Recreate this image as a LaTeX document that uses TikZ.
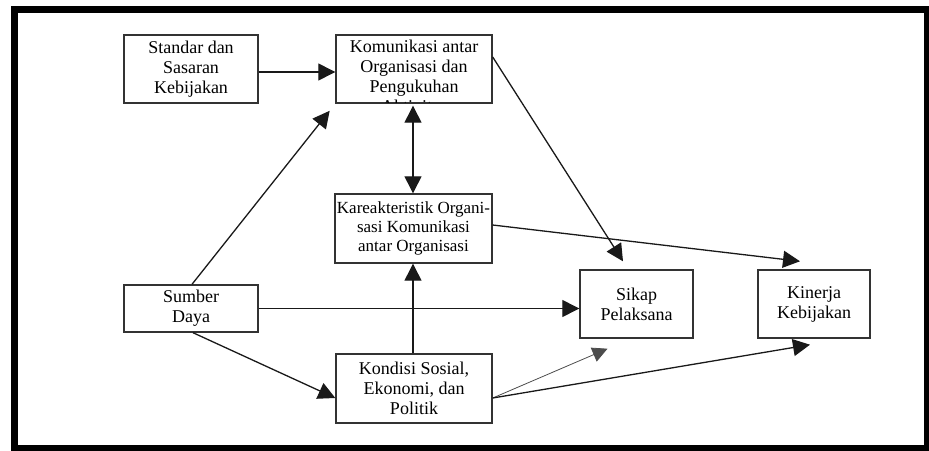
\documentclass[tikz,border=0pt]{standalone}
\usepackage{fontspec}
\setmainfont{Liberation Serif}
\usetikzlibrary{arrows.meta}
\begin{document}
\begin{tikzpicture}[x=1pt,y=-1pt,
  box/.style={draw=black!80,line width=1.4pt,fill=white,inner sep=0pt,align=center,
    font=\fontsize{18}{20}\selectfont},
  conn/.style={line width=1.3pt,black!90,-{Triangle[length=17pt,width=17pt]}},
  thinconn/.style={line width=0.8pt,black!70,-{Triangle[length=15pt,width=15pt]}}]
\useasboundingbox (0,0) rectangle (929,450);
\draw[line width=7pt] (14.5,9) rectangle (927.5,448.5);
% boxes
\node[box,minimum width=134pt,minimum height=68pt] (std) at (191,69) {Standar dan\\Sasaran\\Kebijakan};
\node[box,minimum width=156pt,minimum height=68pt] (kom) at (414,69) {};
\begin{scope}
\clip (336,35) rectangle (492,103);
\node[align=center,inner sep=0pt,font=\fontsize{18}{20}\selectfont] (komtxt) at (414,76.5) {Komunikasi antar\\Organisasi dan\\Pengukuhan\\Aktivitas};
\end{scope}
\draw[draw=black!80,line width=1.4pt] (kom.south west) rectangle (kom.north east);
\node[box,minimum width=157pt,minimum height=69pt,font=\fontsize{17}{19}\selectfont] (kar) at (413.5,228.5) {Kareakteristik Organi-\\sasi Komunikasi\\antar Organisasi};
\node[box,minimum width=134pt,minimum height=47pt] (sum) at (191,308.5) {Sumber\\Daya};
\node[box,minimum width=156pt,minimum height=69pt] (kon) at (414,388.5) {Kondisi Sosial,\\Ekonomi, dan\\Politik};
\node[box,minimum width=113pt,minimum height=68pt] (sik) at (636.5,304) {Sikap\\Pelaksana};
\node[box,minimum width=112pt,minimum height=68pt] (kin) at (814,304) {Kinerja\\Kebijakan};
% connectors
\draw[conn] ([yshift=-3pt]std.east) -- ([yshift=-3pt]kom.west);
\draw[conn,shorten >=9pt] ([xshift=1pt]sum.north) -- (kom.south west);
\draw[conn,{Triangle[length=17pt,width=17pt]}-{Triangle[length=17pt,width=17pt]}] ([xshift=-1pt,yshift=-2pt]kom.south) -- ([xshift=-0.5pt]kar.north);
\draw[conn] ([xshift=-1pt]kon.north) -- ([xshift=-0.5pt]kar.south);
\draw[conn] ([xshift=2pt]sum.south) -- ([yshift=-9.5pt]kon.west);
\draw[conn] (sum.east) -- (sum.east -| sik.west);
\draw[conn] ([yshift=12pt]kom.east) -- ([xshift=-13.5pt,yshift=8pt]sik.north);
\draw[conn] ([yshift=3.5pt]kar.east) -- ([xshift=-14pt,yshift=8pt]kin.north);
\draw[thinconn] ([yshift=-9.5pt]kon.east) -- ([xshift=-29pt,yshift=-10pt]sik.south);
\draw[conn] ([yshift=-9.5pt]kon.east) -- ([xshift=-4pt,yshift=-6pt]kin.south);
\end{tikzpicture}
\end{document}
